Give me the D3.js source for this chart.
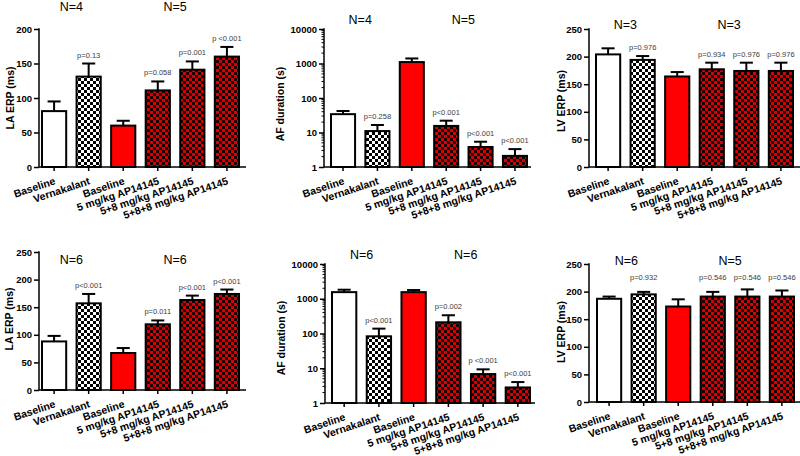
<!DOCTYPE html>
<html><head><meta charset="utf-8">
<script src="https://cdn.jsdelivr.net/npm/d3@7"></script>
<style>
html,body{margin:0;padding:0;background:#fff;}
svg text{font-family:Arial,"Liberation Sans",Helvetica,sans-serif;}
</style></head>
<body>
<svg id="chart" width="800" height="456"></svg>
<script>
// ---------- DATA ----------
const categories = ["Baseline","Vernakalant","Baseline","5 mg/kg AP14145","5+8 mg/kg AP14145","5+8+8 mg/kg AP14145"];

const laTopMean = [81, 131, 60, 111, 141, 160];
const laTopSem  = [14, 19, 7, 13, 12, 14];
const laTopP    = ["", "p=0.13", "", "p=0.058", "p=0.001", "p <0.001"];
const laTopN    = ["N=4", "N=5"];
const laTopTicks = [0, 50, 100, 150, 200];

const afTopMean = [34, 11, 1100, 15.5, 3.8, 2.1];
const afTopSem  = [8, 5.5, 300, 6.5, 1.6, 1.2];
const afTopP    = ["", "p=0.258", "", "p<0.001", "p<0.001", "p<0.001"];
const afTopN    = ["N=4", "N=5"];

const lvTopMean = [204, 194, 164, 177, 174, 174];
const lvTopSem  = [11, 7, 8, 12, 15, 15];
const lvTopP    = ["", "p=0.976", "", "p=0.934", "p=0.976", "p=0.976"];
const lvTopN    = ["N=3", "N=3"];

const laBotMean = [88, 157, 67, 119, 163, 174];
const laBotSem  = [10, 17, 9, 7, 8, 8];
const laBotP    = ["", "p<0.001", "", "p=0.011", "p<0.001", "p<0.001"];
const laBotN    = ["N=6", "N=6"];

const afBotMean = [1550, 83, 1550, 210, 6.8, 2.8];
const afBotSem  = [270, 55, 230, 125, 2.5, 1.2];
const afBotP    = ["", "p<0.001", "", "p=0.002", "p <0.001", "p<0.001"];
const afBotN    = ["N=6", "N=6"];

const lvBotMean = [187, 195, 173, 191, 191, 191];
const lvBotSem  = [4, 4.5, 13, 8.5, 13, 11];
const lvBotP    = ["", "p=0.932", "", "p=0.546", "p=0.546", "p=0.546"];
const lvBotN    = ["N=6", "N=5"];

const linTicks250 = [0, 50, 100, 150, 200, 250];
const logTicks = [1, 10, 100, 1000, 10000];

// ---------- STYLE / LAYOUT ----------
const fillFor = ["#ffffff", "url(#chkBW)", "#ff0000", "url(#chkRed)", "url(#chkRed)", "url(#chkRed)"];

const svg = d3.select("#chart");
const defs = svg.append("defs");
function checker(id, bg, fg, c) {
  const p = defs.append("pattern").attr("id", id).attr("patternUnits", "userSpaceOnUse")
    .attr("width", 2*c).attr("height", 2*c);
  p.append("rect").attr("width", 2*c).attr("height", 2*c).attr("fill", bg);
  p.append("rect").attr("width", c).attr("height", c).attr("fill", fg);
  p.append("rect").attr("x", c).attr("y", c).attr("width", c).attr("height", c).attr("fill", fg);
}
checker("chkBW", "#ffffff", "#000000", 3);
checker("chkRed", "#d80000", "#1a0000", 3);

const panels = [
  {mean: laTopMean, sem: laTopSem, p: laTopP, n: laTopN, title: "LA ERP (ms)", log: false, domain: [0,200], ticks: laTopTicks,
   ax: 39, xEnd: 246, top: 29, bottom: 167, bl: 42, br: 239, tx: 11, ty: 98, ny: 11, pAlign: false},
  {mean: afTopMean, sem: afTopSem, p: afTopP, n: afTopN, title: "AF duration (s)", log: true, domain: [1,10000], ticks: logTicks,
   ax: 324, xEnd: 531, top: 29, bottom: 167, bl: 331, br: 527, tx: 281, ty: 104, ny: 24, pAlign: false},
  {mean: lvTopMean, sem: lvTopSem, p: lvTopP, n: lvTopN, title: "LV ERP (ms)", log: false, domain: [0,250], ticks: linTicks250,
   ax: 589, xEnd: 800, top: 29, bottom: 167, bl: 596, br: 793, tx: 562, ty: 101, ny: 29, pAlign: false},
  {mean: laBotMean, sem: laBotSem, p: laBotP, n: laBotN, title: "LA ERP (ms)", log: false, domain: [0,250], ticks: linTicks250,
   ax: 39, xEnd: 246, top: 252, bottom: 390, bl: 42, br: 239, tx: 10, ty: 319, ny: 264, pAlign: false},
  {mean: afBotMean, sem: afBotSem, p: afBotP, n: afBotN, title: "AF duration (s)", log: true, domain: [1,10000], ticks: logTicks,
   ax: 325, xEnd: 535, top: 264, bottom: 403, bl: 332, br: 530, tx: 282, ty: 338, ny: 259, pAlign: false},
  {mean: lvBotMean, sem: lvBotSem, p: lvBotP, n: lvBotN, title: "LV ERP (ms)", log: false, domain: [0,250], ticks: linTicks250,
   ax: 589, xEnd: 800, top: 264, bottom: 402, bl: 597, br: 794, tx: 562, ty: 332, ny: 265, pAlign: true}
];

panels.forEach((P, pi) => {
  const g = svg.append("g");
  const y = P.log
    ? d3.scaleLog().domain(P.domain).range([P.bottom, P.top])
    : d3.scaleLinear().domain(P.domain).range([P.bottom, P.top]);
  const x = d3.scaleBand().domain(d3.range(categories.length))
    .range([P.bl, P.br]).paddingInner(0.3).paddingOuter(0);
  const bw = x.bandwidth();
  const cx = i => x(i) + bw / 2;
  const base = P.log ? P.domain[0] : 0;

  // bars
  g.selectAll("rect.bar").data(P.mean).join("rect")
    .attr("class", "bar")
    .attr("x", (d, i) => x(i))
    .attr("y", d => y(d))
    .attr("width", bw)
    .attr("height", d => y(base) - y(d))
    .attr("fill", (d, i) => fillFor[i])
    .attr("stroke", "#000").attr("stroke-width", 2);

  // error bars
  const capHalf = bw * 0.27;
  P.mean.forEach((m, i) => {
    const hi = m + P.sem[i];
    g.append("line").attr("x1", cx(i)).attr("x2", cx(i)).attr("y1", y(m)).attr("y2", y(hi))
      .attr("stroke", "#000").attr("stroke-width", 2);
    g.append("line").attr("x1", cx(i) - capHalf).attr("x2", cx(i) + capHalf).attr("y1", y(hi)).attr("y2", y(hi))
      .attr("stroke", "#000").attr("stroke-width", 2);
  });

  // p values
  const tops = P.mean.map((m, i) => y(m + P.sem[i]));
  const alignTop = d3.min(tops.filter((t, i) => P.p[i]));
  P.p.forEach((lab, i) => {
    if (!lab) return;
    const ty = P.pAlign ? alignTop - 9 : tops[i] - 6;
    g.append("text").attr("x", cx(i)).attr("y", ty).attr("text-anchor", "middle")
      .attr("font-size", 7.5).attr("fill", "#3c3c3c").text(lab);
  });

  // y axis
  const yAxis = d3.axisLeft(y).tickValues(P.ticks).tickSize(5).tickSizeOuter(0).tickPadding(2)
    .tickFormat(d3.format("d"));
  const ya = g.append("g").attr("transform", `translate(${P.ax},0)`).call(yAxis);
  ya.select(".domain").remove();
  ya.selectAll(".tick line").attr("stroke-width", 1.5);
  ya.selectAll(".tick text").attr("font-size", 9.5).attr("font-weight", "bold").attr("fill", "#000")
    .style("font-family", "Arial, 'Liberation Sans', sans-serif");
  g.append("line").attr("x1", P.ax).attr("x2", P.ax).attr("y1", P.top - 0.75).attr("y2", P.bottom)
    .attr("stroke", "#000").attr("stroke-width", 1.5);
  if (P.log) {
    const minors = [];
    for (let dec = 1; dec < P.domain[1]; dec *= 10) for (let k = 2; k <= 9; k++) minors.push(dec * k);
    g.selectAll("line.minor").data(minors).join("line").attr("class", "minor")
      .attr("x1", P.ax - 2.5).attr("x2", P.ax).attr("y1", d => y(d)).attr("y2", d => y(d))
      .attr("stroke", "#000").attr("stroke-width", 1);
  }

  // x axis
  g.append("line").attr("x1", P.ax).attr("x2", P.xEnd).attr("y1", P.bottom).attr("y2", P.bottom)
    .attr("stroke", "#000").attr("stroke-width", 1.5);
  const xAxis = d3.axisBottom(x).tickSize(4).tickSizeOuter(0).tickFormat(i => categories[i]);
  const xa = g.append("g").attr("transform", `translate(0,${P.bottom})`).call(xAxis);
  xa.select(".domain").remove();
  xa.selectAll(".tick line").attr("stroke-width", 1.5);
  xa.selectAll(".tick text")
    .attr("font-size", 10.5).attr("font-weight", "bold").attr("fill", "#000")
    .attr("text-anchor", "end").attr("dy", null).attr("y", null)
    .attr("transform", "translate(2,17) rotate(-18.5)");

  // y title
  g.append("text").attr("transform", `translate(${P.tx},${P.ty}) rotate(-90)`)
    .attr("text-anchor", "middle").attr("dominant-baseline", "middle")
    .attr("font-size", 10.5).attr("font-weight", "bold").text(P.title);

  // N labels: first over bars 0-1, second over bars 2-5
  const groups = [[0, 1], [2, 5]];
  P.n.forEach((lab, k) => {
    const gx = (cx(groups[k][0]) + cx(groups[k][1])) / 2;
    g.append("text").attr("x", gx).attr("y", P.ny).attr("text-anchor", "middle")
      .attr("font-size", 12.5).attr("fill", "#000").text(lab);
  });
});
</script>
</body></html>
